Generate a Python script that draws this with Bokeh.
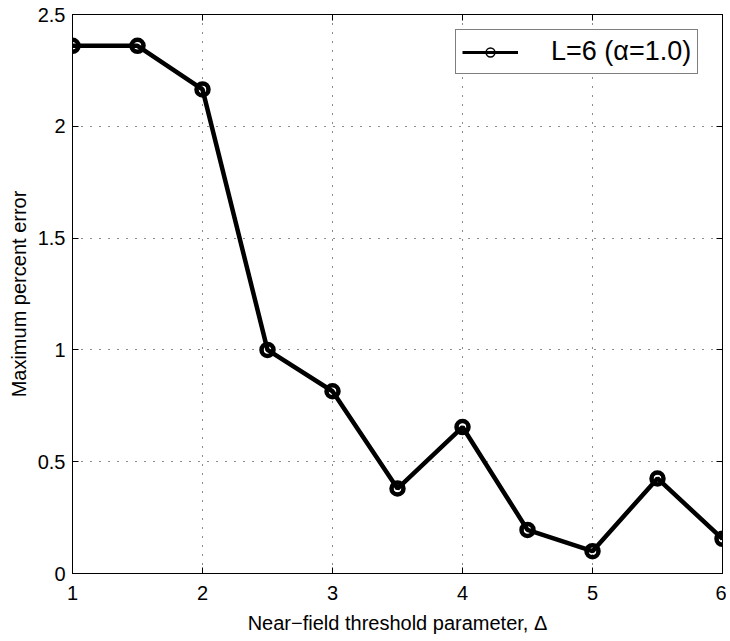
from bokeh.plotting import figure
from bokeh.models import (Range1d, LinearAxis, FixedTicker, CustomJSTickFormatter,
                          Legend, LegendItem, ColumnDataSource)
from bokeh.embed import file_html
from bokeh.resources import INLINE

# ---- data ----
delta = [1.0, 1.5, 2.0, 2.5, 3.0, 3.5, 4.0, 4.5, 5.0, 5.5, 6.0]
max_err = [2.36, 2.36, 2.165, 1.0, 0.815, 0.38, 0.655, 0.195, 0.10, 0.425, 0.155]
x_ticks = [1, 2, 3, 4, 5, 6]
y_ticks = [0, 0.5, 1, 1.5, 2, 2.5]
series_label = "L=6 (\u03b1=1.0)"
x_label = "Near\u2212field threshold parameter, \u0394"
y_label = "Maximum percent error"

FONT = "Liberation Sans"

p = figure(width=726, height=636, output_backend="svg", toolbar_location=None,
           x_range=Range1d(1, 6), y_range=Range1d(0, 2.5),
           min_border_left=72, min_border_right=4, min_border_top=14, min_border_bottom=63,
           x_axis_label=x_label, y_axis_label=y_label)

p.background_fill_color = "white"
p.border_fill_color = "white"
p.outline_line_color = "black"
p.outline_line_width = 1

fmt = CustomJSTickFormatter(code="return tick.toString();")

for ax, ticks in ((p.xaxis[0], x_ticks), (p.yaxis[0], y_ticks)):
    ax.ticker = FixedTicker(ticks=ticks)
    ax.formatter = fmt
    ax.major_tick_in = 6
    ax.major_tick_out = 0
    ax.minor_tick_line_color = None
    ax.axis_line_color = "black"
    ax.major_tick_line_color = "black"
    ax.major_label_text_font = FONT
    ax.major_label_text_font_size = "20px"
    ax.major_label_text_color = "black"
    ax.axis_label_text_font = FONT
    ax.axis_label_text_font_size = "20px"
    ax.axis_label_text_font_style = "normal"
    ax.axis_label_text_color = "black"

p.xaxis.major_label_standoff = 12
p.xaxis.axis_label_standoff = 9
p.yaxis.major_label_standoff = 7
p.yaxis.axis_label_standoff = 5

# top / right axes only for inward ticks (no labels)
blank = CustomJSTickFormatter(code="return '';")
for loc, ticks in (("above", x_ticks), ("right", y_ticks)):
    a = LinearAxis(ticker=FixedTicker(ticks=ticks), formatter=blank)
    a.major_tick_in = 6
    a.major_tick_out = 0
    a.minor_tick_line_color = None
    a.major_label_text_font_size = "1px"
    a.major_label_text_color = None
    a.major_label_standoff = 0
    a.axis_line_color = "black"
    a.major_tick_line_color = "black"
    p.add_layout(a, loc)

# dotted grid
for g in (p.xgrid[0], p.ygrid[0]):
    g.grid_line_color = "black"
    g.grid_line_dash = "1 8"
    g.grid_line_width = 1
    g.grid_line_alpha = 0.9
p.xgrid[0].ticker = FixedTicker(ticks=x_ticks)
p.ygrid[0].ticker = FixedTicker(ticks=y_ticks)

src = ColumnDataSource(data=dict(x=delta, y=max_err))

# thin-styled renderers (hidden under the thick ones) used for the legend sample
lg_line = p.line("x", "y", source=src, line_color="black", line_width=3)
lg_mark = p.scatter("x", "y", source=src, marker="circle", size=10, line_color="black",
                    line_width=1.5, fill_alpha=0)

p.line("x", "y", source=src, line_color="black", line_width=4.5)
p.scatter("x", "y", source=src, marker="circle", size=12, line_color="black",
          line_width=4.5, fill_alpha=0)

legend = Legend(items=[LegendItem(label=series_label, renderers=[lg_line, lg_mark])],
                location=(383, 499), orientation="vertical")
legend.border_line_color = "black"
legend.border_line_width = 1
legend.background_fill_color = "white"
legend.background_fill_alpha = 1
legend.label_text_font = FONT
legend.label_text_font_size = "27px"
legend.label_text_color = "black"
legend.glyph_width = 56
legend.glyph_height = 22
legend.label_height = 22
legend.label_standoff = 33
legend.padding = 6
legend.margin = 0
legend.spacing = 0
p.add_layout(legend, "center")

open("out.html", "w").write(file_html(p, INLINE))
